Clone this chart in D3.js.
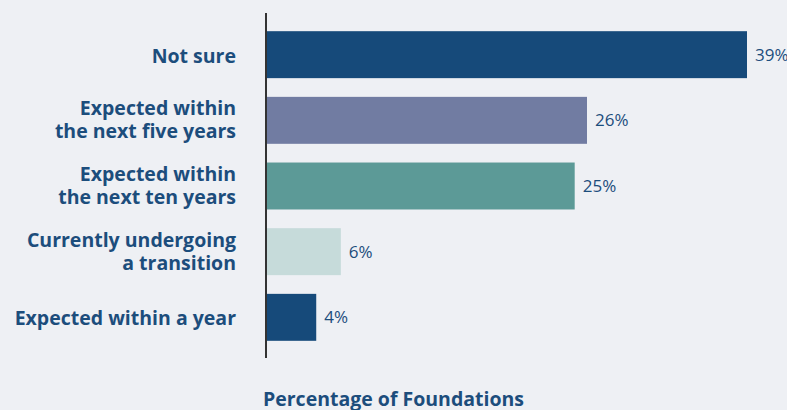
<!DOCTYPE html>
<html><head><meta charset="utf-8">
<script src="https://cdn.jsdelivr.net/npm/d3@7"></script>
<style>
html,body{margin:0;padding:0;background:#eef0f4;}
svg{display:block;}
</style></head>
<body>
<svg id="chart" width="787" height="410"></svg>
<script>
const categories = [
  ["Not sure"],
  ["Expected within", "the next five years"],
  ["Expected within", "the next ten years"],
  ["Currently undergoing", "a transition"],
  ["Expected within a year"]
];
const values = [39, 26, 25, 6, 4];
const valueLabels = ["39%", "26%", "25%", "6%", "4%"];
const colors = ["#164a7a", "#717ca2", "#5c9a97", "#c6dbda", "#164a7a"];
const axisTitle = "Percentage of Foundations";

const svg = d3.select("#chart");
const x0 = 267;
const x = d3.scaleLinear().domain([0, 39]).range([x0, 747]);
const y = d3.scaleBand().domain(d3.range(values.length)).range([22, 350]).paddingInner(0.285).paddingOuter(0.14);
const textColor = "#1c4d7c";
const font = "'Open Sans', sans-serif";

svg.append("rect").attr("width", 787).attr("height", 410).attr("fill", "#eef0f4");

svg.selectAll("rect.bar").data(values).join("rect")
  .attr("class", "bar")
  .attr("x", x0)
  .attr("y", (d, i) => y(i))
  .attr("width", d => x(d) - x0)
  .attr("height", y.bandwidth())
  .attr("fill", (d, i) => colors[i]);

svg.append("line")
  .attr("x1", 266).attr("x2", 266)
  .attr("y1", 13).attr("y2", 358)
  .attr("stroke", "#333").attr("stroke-width", 2);

svg.selectAll("text.val").data(values).join("text")
  .attr("class", "val")
  .attr("x", d => x(d) + 8)
  .attr("y", (d, i) => y(i) + y.bandwidth() / 2 + 6)
  .attr("fill", textColor)
  .attr("font-family", font)
  .attr("font-size", 17)
  .text((d, i) => valueLabels[i]);

const lab = svg.selectAll("text.cat").data(categories).join("text")
  .attr("class", "cat")
  .attr("text-anchor", "end")
  .attr("fill", textColor)
  .attr("font-family", font)
  .attr("font-weight", "bold")
  .attr("font-size", 19.5);
lab.each(function (lines, i) {
  const c = y(i) + y.bandwidth() / 2;
  const t = d3.select(this);
  const start = lines.length === 1 ? c + 8 : c - 5;
  lines.forEach((l, j) => {
    t.append("tspan").attr("x", 236).attr("y", start + j * 23).text(l);
  });
});

svg.append("text")
  .attr("x", 263).attr("y", 406)
  .attr("fill", textColor)
  .attr("font-family", font)
  .attr("font-weight", "bold")
  .attr("font-size", 19.5)
  .text(axisTitle);
</script>
</body></html>
